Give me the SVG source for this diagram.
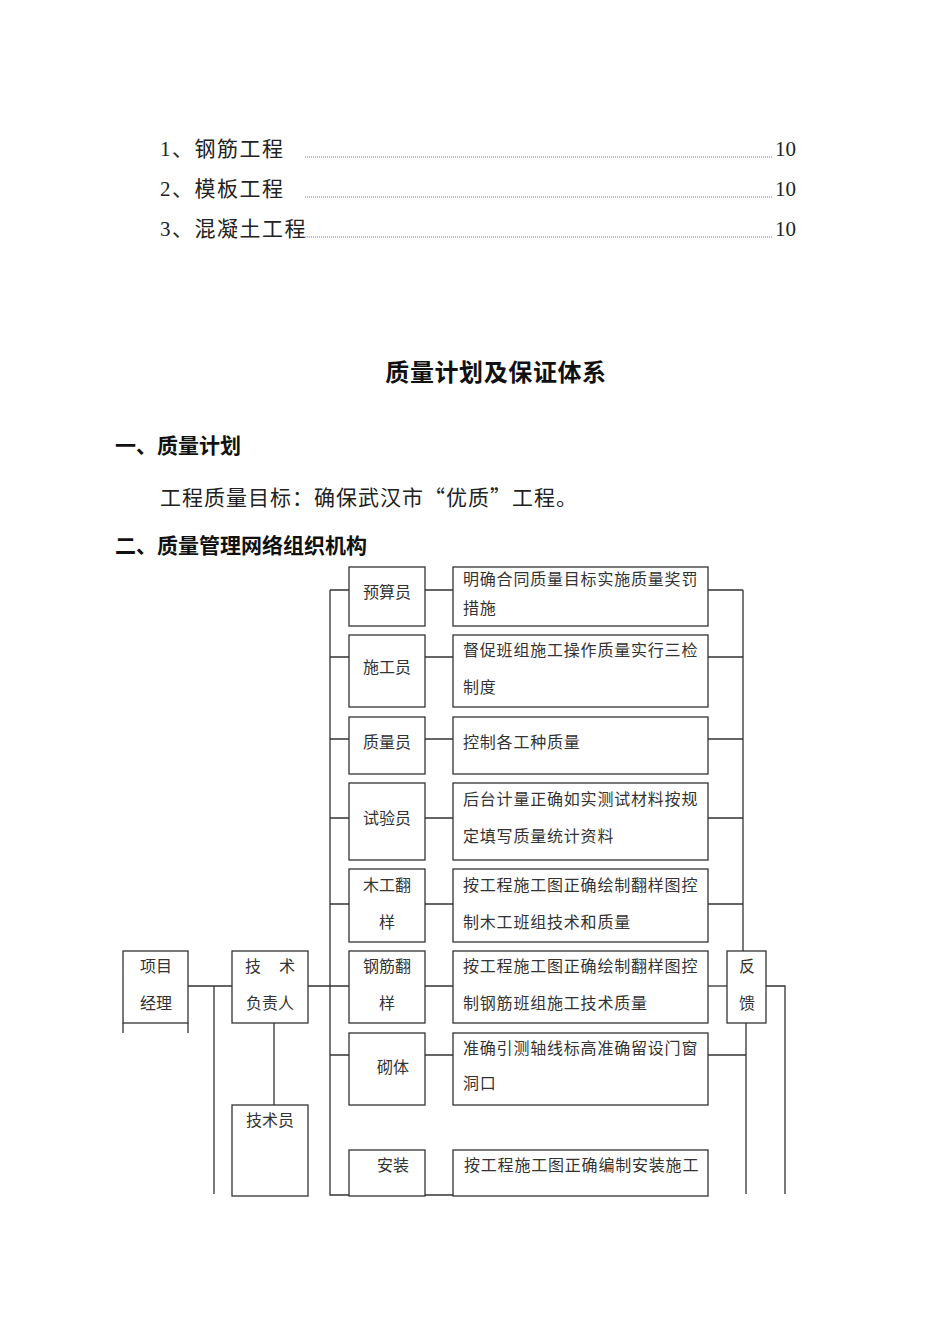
<svg xmlns="http://www.w3.org/2000/svg" width="950" height="1344" viewBox="0 0 950 1344">
<style>
.t{font-family:"Liberation Serif","Noto Sans CJK SC",serif;fill:#222}
.cjk{font-family:"Noto Sans CJK SC",sans-serif}
.toc{font-size:21px}
.h{font-family:"Noto Sans CJK SC",sans-serif;font-weight:bold;fill:#111}
.d{font-family:"Noto Sans CJK SC",sans-serif;font-size:16px;fill:#333}
.b{font-family:"Noto Sans CJK SC",sans-serif;font-size:16px;fill:#333;letter-spacing:0.8px}
.box{fill:#fff;stroke:#333;stroke-width:1.3}
.ln{fill:none;stroke:#333;stroke-width:1.3}
.dots{stroke:#777;stroke-width:1;stroke-dasharray:1 1}
</style>
<rect width="950" height="1344" fill="#fff"/>

<g id="toc">
<text class="t toc" x="160" y="156" letter-spacing="1.5">1、钢筋工程</text>
<line class="dots" x1="305" y1="157" x2="773" y2="157"/>
<text class="t toc" x="775" y="156">10</text>
<text class="t toc" x="160" y="196" letter-spacing="1.5">2、模板工程</text>
<line class="dots" x1="305" y1="197" x2="773" y2="197"/>
<text class="t toc" x="775" y="196">10</text>
<text class="t toc" x="160" y="236" letter-spacing="1.5">3、混凝土工程</text>
<line class="dots" x1="305" y1="237" x2="773" y2="237"/>
<text class="t toc" x="775" y="236">10</text>
</g>

<g id="headings">
<text class="h" x="496" y="381" font-size="24" text-anchor="middle" letter-spacing="0.6">质量计划及保证体系</text>
<text class="h" x="115" y="453" font-size="21">一、质量计划</text>
<text class="t cjk" x="160" y="505" font-size="21" letter-spacing="1">工程质量目标：确保武汉市“优质”工程。</text>
<text class="h" x="115" y="553" font-size="21">二、质量管理网络组织机构</text>
</g>

<g id="connectors">
<path class="ln" d="M330 590 V1195 H708"/>
<path class="ln" d="M330 590 H349 M330 657 H349 M330 739 H349 M330 818 H349 M330 904 H349 M330 986 H349 M330 1055 H349"/>
<path class="ln" d="M425 590 H453 M425 657 H453 M425 739 H453 M425 818 H453 M425 904 H453 M425 986 H453 M425 1055 H453"/>
<path class="ln" d="M708 590 H743 M708 657 H743 M708 739 H743 M708 818 H743 M708 904 H743 M743 590 V951"/>
<path class="ln" d="M708 986 H727"/>
<path class="ln" d="M708 1055 H746 M746 1023 V1194"/>
<path class="ln" d="M766 986 H785 V1194"/>
<path class="ln" d="M188 986 H232 M214 986 V1194 M308 986 H330 M274 1023 V1105"/>
<path class="ln" d="M123 1023 V1033 M188 1023 V1033"/>
</g>

<g id="n-xiangmu"><rect class="box" x="123" y="951" width="65" height="72"/>
<text class="d" x="156" y="972" text-anchor="middle">项目</text>
<text class="d" x="156" y="1009" text-anchor="middle">经理</text></g>

<g id="n-jishufuzeren"><rect class="box" x="232" y="951" width="76" height="72"/>
<text class="d" x="253" y="972" text-anchor="middle">技</text>
<text class="d" x="287" y="972" text-anchor="middle">术</text>
<text class="d" x="270" y="1009" text-anchor="middle">负责人</text></g>

<g id="n-jishuyuan"><rect class="box" x="232" y="1105" width="76" height="91"/>
<text class="d" x="270" y="1126" text-anchor="middle">技术员</text></g>

<g id="n-yusuanyuan"><rect class="box" x="349" y="567" width="76" height="59"/>
<text class="d" x="387" y="598" text-anchor="middle">预算员</text></g>
<g id="n-shigongyuan"><rect class="box" x="349" y="635" width="76" height="72"/>
<text class="d" x="387" y="673" text-anchor="middle">施工员</text></g>
<g id="n-zhiliangyuan"><rect class="box" x="349" y="717" width="76" height="57"/>
<text class="d" x="387" y="748" text-anchor="middle">质量员</text></g>
<g id="n-shiyanyuan"><rect class="box" x="349" y="783" width="76" height="77"/>
<text class="d" x="387" y="824" text-anchor="middle">试验员</text></g>
<g id="n-mugong"><rect class="box" x="349" y="869" width="76" height="73"/>
<text class="d" x="387" y="891" text-anchor="middle">木工翻</text>
<text class="d" x="387" y="928" text-anchor="middle">样</text></g>
<g id="n-gangjin"><rect class="box" x="349" y="951" width="76" height="72"/>
<text class="d" x="387" y="972" text-anchor="middle">钢筋翻</text>
<text class="d" x="387" y="1009" text-anchor="middle">样</text></g>
<g id="n-qiti"><rect class="box" x="349" y="1033" width="76" height="72"/>
<text class="d" x="393" y="1073" text-anchor="middle">砌体</text></g>
<g id="n-anzhuang"><rect class="box" x="349" y="1150" width="76" height="46"/>
<text class="d" x="393" y="1171" text-anchor="middle">安装</text></g>

<g id="d-yusuan"><rect class="box" x="453" y="567" width="255" height="59"/>
<text class="b" x="463" y="585">明确合同质量目标实施质量奖罚</text>
<text class="b" x="463" y="614">措施</text></g>
<g id="d-shigong"><rect class="box" x="453" y="635" width="255" height="72"/>
<text class="b" x="463" y="656">督促班组施工操作质量实行三检</text>
<text class="b" x="463" y="693">制度</text></g>
<g id="d-zhiliang"><rect class="box" x="453" y="717" width="255" height="57"/>
<text class="b" x="463" y="748">控制各工种质量</text></g>
<g id="d-shiyan"><rect class="box" x="453" y="783" width="255" height="77"/>
<text class="b" x="463" y="805">后台计量正确如实测试材料按规</text>
<text class="b" x="463" y="842">定填写质量统计资料</text></g>
<g id="d-mugong"><rect class="box" x="453" y="869" width="255" height="73"/>
<text class="b" x="463" y="891">按工程施工图正确绘制翻样图控</text>
<text class="b" x="463" y="928">制木工班组技术和质量</text></g>
<g id="d-gangjin"><rect class="box" x="453" y="951" width="255" height="72"/>
<text class="b" x="463" y="972">按工程施工图正确绘制翻样图控</text>
<text class="b" x="463" y="1009">制钢筋班组施工技术质量</text></g>
<g id="d-qiti"><rect class="box" x="453" y="1033" width="255" height="72"/>
<text class="b" x="463" y="1054">准确引测轴线标高准确留设门窗</text>
<text class="b" x="463" y="1089">洞口</text></g>
<g id="d-anzhuang"><rect class="box" x="453" y="1150" width="255" height="46"/>
<text class="b" x="464" y="1171">按工程施工图正确编制安装施工</text></g>

<g id="n-fankui"><rect class="box" x="727" y="951" width="39" height="72"/>
<text class="d" x="747" y="972" text-anchor="middle">反</text>
<text class="d" x="747" y="1009" text-anchor="middle">馈</text></g>
</svg>
